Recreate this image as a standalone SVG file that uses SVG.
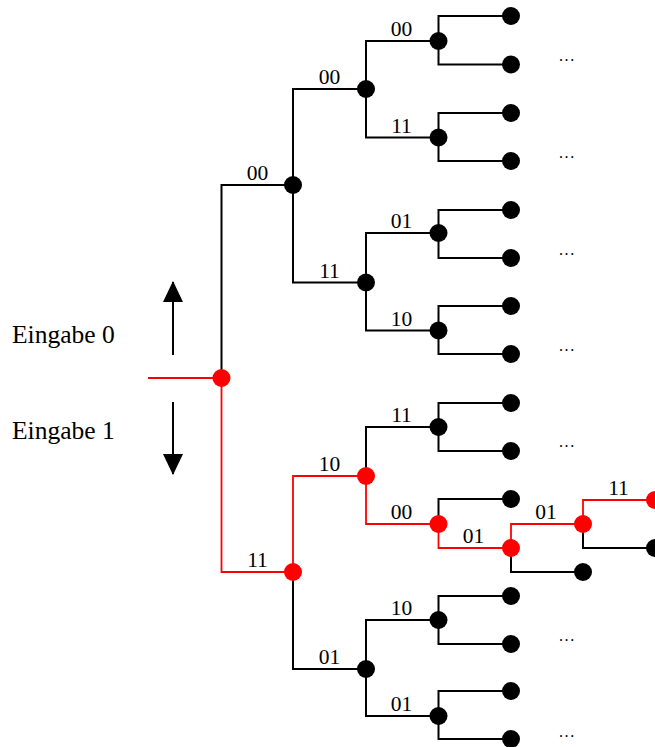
<svg xmlns="http://www.w3.org/2000/svg" width="655" height="747" viewBox="0 0 655 747">
<style>
.k{fill:none;stroke:#000;stroke-width:2}
.rl{fill:none;stroke:#ff0000;stroke-width:1.8}
.n{fill:#000}
.r{fill:#ff0000}
text{font-family:'Liberation Serif','Times New Roman',Times,serif;fill:#000}
.lb{font-size:21.5px;text-anchor:middle}
.big{font-size:25.5px}
.dots{font-size:16px;letter-spacing:1.6px}
</style>
<defs>
<marker id="ah" markerUnits="userSpaceOnUse" markerWidth="21" markerHeight="20" viewBox="0 0 21 20" refX="20" refY="10" orient="auto">
<path d="M0,0 L21,10 L0,20 Z" fill="#000"/>
</marker>
</defs>
<rect width="655" height="747" fill="#fff"/>
<g id="connectors">
<path class="k" d="M221.5,378 V185 H293"/>
<path class="k" d="M366,89 H293 V282.5 H366"/>
<path class="k" d="M293,572 V669 H366"/>
<path class="k" d="M438.5,41 H366 V137.5 H438.5"/>
<path class="k" d="M438.5,233 H366 V330.5 H438.5"/>
<path class="k" d="M438.5,427 H366 V476"/>
<path class="k" d="M438.5,620 H366 V716 H438.5"/>
<path class="k" d="M511,16 H438.5 V64.5 H511"/>
<path class="k" d="M511,113 H438.5 V161 H511"/>
<path class="k" d="M511,210 H438.5 V258 H511"/>
<path class="k" d="M511,306 H438.5 V354 H511"/>
<path class="k" d="M511,403 H438.5 V451 H511"/>
<path class="k" d="M511,499 H438.5 V524"/>
<path class="k" d="M511,596 H438.5 V644 H511"/>
<path class="k" d="M511,691 H438.5 V739 H511"/>
<path class="k" d="M511,548 V572 H583"/>
<path class="k" d="M583,524 V548 H655"/>
<path class="rl" d="M148,378 H221.5 V572 H293"/>
<path class="rl" d="M366,476 H293 V572"/>
<path class="rl" d="M366,476 V524 H438.5 V548 H511 V524 H583 V500 H655"/>
<path class="k" d="M173,355 V282" marker-end="url(#ah)"/>
<path class="k" d="M173,402 V474" marker-end="url(#ah)"/>
<text class="lb" x="257.5" y="180">00</text>
<text class="lb" x="257.5" y="567">11</text>
<text class="lb" x="329.5" y="84">00</text>
<text class="lb" x="329.5" y="277.5">11</text>
<text class="lb" x="329.5" y="471">10</text>
<text class="lb" x="329.5" y="664">01</text>
<text class="lb" x="401.5" y="36">00</text>
<text class="lb" x="401.5" y="132.5">11</text>
<text class="lb" x="401.5" y="228">01</text>
<text class="lb" x="401.5" y="325.5">10</text>
<text class="lb" x="401.5" y="422">11</text>
<text class="lb" x="401.5" y="519">00</text>
<text class="lb" x="401.5" y="615">10</text>
<text class="lb" x="401.5" y="711">01</text>
<text class="lb" x="473.5" y="543">01</text>
<text class="lb" x="546" y="519">01</text>
<text class="lb" x="618.5" y="495">11</text>
</g>
<g id="labels">
<text class="big" x="12" y="342.5">Eingabe 0</text>
<text class="big" x="12" y="439">Eingabe 1</text>
<text class="dots" x="559" y="61">...</text>
<text class="dots" x="559" y="158">...</text>
<text class="dots" x="559" y="255">...</text>
<text class="dots" x="559" y="351">...</text>
<text class="dots" x="559" y="447">...</text>
<text class="dots" x="559" y="641">...</text>
<text class="dots" x="559" y="737">...</text>
</g>
<g id="root"><circle class="r" cx="221.5" cy="378" r="9"/></g>
<g id="a0"><circle class="n" cx="293" cy="185" r="9"/></g>
<g id="a1"><circle class="r" cx="293" cy="572" r="9"/></g>
<g id="b0"><circle class="n" cx="366" cy="89" r="9"/></g>
<g id="b1"><circle class="n" cx="366" cy="282.5" r="9"/></g>
<g id="b2"><circle class="r" cx="366" cy="476" r="9"/></g>
<g id="b3"><circle class="n" cx="366" cy="669" r="9"/></g>
<g id="c0"><circle class="n" cx="438.5" cy="41" r="9"/></g>
<g id="c1"><circle class="n" cx="438.5" cy="137.5" r="9"/></g>
<g id="c2"><circle class="n" cx="438.5" cy="233" r="9"/></g>
<g id="c3"><circle class="n" cx="438.5" cy="330.5" r="9"/></g>
<g id="c4"><circle class="n" cx="438.5" cy="427" r="9"/></g>
<g id="c5"><circle class="r" cx="438.5" cy="524" r="9"/></g>
<g id="c6"><circle class="n" cx="438.5" cy="620" r="9"/></g>
<g id="c7"><circle class="n" cx="438.5" cy="716" r="9"/></g>
<g id="d0"><circle class="n" cx="511" cy="16" r="9"/></g>
<g id="d1"><circle class="n" cx="511" cy="64.5" r="9"/></g>
<g id="d2"><circle class="n" cx="511" cy="113" r="9"/></g>
<g id="d3"><circle class="n" cx="511" cy="161" r="9"/></g>
<g id="d4"><circle class="n" cx="511" cy="210" r="9"/></g>
<g id="d5"><circle class="n" cx="511" cy="258" r="9"/></g>
<g id="d6"><circle class="n" cx="511" cy="306" r="9"/></g>
<g id="d7"><circle class="n" cx="511" cy="354" r="9"/></g>
<g id="d8"><circle class="n" cx="511" cy="403" r="9"/></g>
<g id="d9"><circle class="n" cx="511" cy="451" r="9"/></g>
<g id="d10"><circle class="n" cx="511" cy="499" r="9"/></g>
<g id="d11"><circle class="r" cx="511" cy="548" r="9"/></g>
<g id="d12"><circle class="n" cx="511" cy="596" r="9"/></g>
<g id="d13"><circle class="n" cx="511" cy="644" r="9"/></g>
<g id="d14"><circle class="n" cx="511" cy="691" r="9"/></g>
<g id="d15"><circle class="n" cx="511" cy="739" r="9"/></g>
<g id="e0"><circle class="r" cx="583" cy="524" r="9"/></g>
<g id="e1"><circle class="n" cx="583" cy="572" r="9"/></g>
<g id="f0"><circle class="r" cx="655" cy="500" r="9"/></g>
<g id="f1"><circle class="n" cx="655" cy="548" r="9"/></g>
</svg>
